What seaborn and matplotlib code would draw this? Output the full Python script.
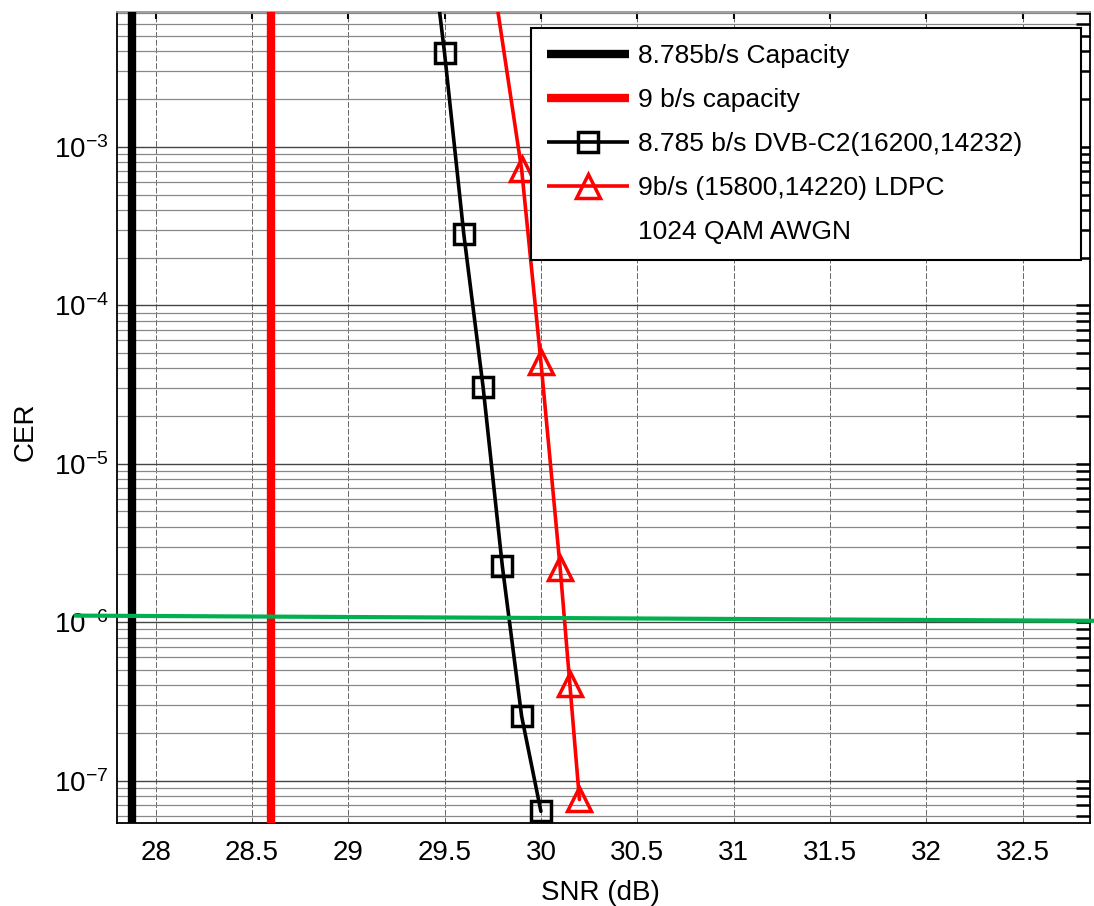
import numpy as np
import pandas as pd
import seaborn as sns
import matplotlib.pyplot as plt
from matplotlib.lines import Line2D
from matplotlib.ticker import LogLocator, NullFormatter

# capacity limits (dB)
cap_snr = [27.88, 28.6]
cap_labels = ['8.785b/s Capacity', '9 b/s capacity']
cap_colors = ['black', '#ff0000']

# 8.785 b/s DVB-C2(16200,14232)
dvb_snr = [29.4, 29.5, 29.6, 29.7, 29.8, 29.9, 30.0]
dvb_cer = [4.0e-2, 3.9e-3, 2.8e-4, 3.05e-5, 2.25e-6, 2.55e-7, 6.4e-8]

# 9b/s (15800,14220) LDPC
ldpc_snr = [29.7, 29.9, 30.0, 30.1, 30.15, 30.2]
ldpc_cer = [3.0e-2, 7.2e-4, 4.4e-5, 2.2e-6, 4.1e-7, 7.6e-8]

# target CER reference line (slightly tilted in the original)
target_snr = [27.586, 32.87]
target_cer = [1.1e-6, 1.02e-6]

xticks = [28, 28.5, 29, 29.5, 30, 30.5, 31, 31.5, 32, 32.5]
xticklabels = ['28', '28.5', '29', '29.5', '30', '30.5', '31', '31.5', '32', '32.5']

sns.set_style('white')
plt.rcParams['font.family'] = ['Liberation Sans', 'DejaVu Sans']
plt.rcParams['mathtext.fontset'] = 'custom'
plt.rcParams['mathtext.rm'] = 'Liberation Sans'
plt.rcParams['mathtext.it'] = 'Liberation Sans'

fig = plt.figure(figsize=(10.94, 9.06), dpi=100)
ax = fig.add_axes([0.107, 0.0916, 0.8893, 0.8952])

for x, c in zip(cap_snr, cap_colors):
    ax.axvline(x, color=c, lw=6, zorder=3)

dvb = pd.DataFrame({'snr': dvb_snr, 'cer': dvb_cer})
ldpc = pd.DataFrame({'snr': ldpc_snr, 'cer': ldpc_cer})
sns.lineplot(data=dvb, x='snr', y='cer', ax=ax, color='black', lw=2.6,
             marker='s', markersize=14, markerfacecolor='none',
             markeredgecolor='black', markeredgewidth=2.5, zorder=4)
sns.lineplot(data=ldpc, x='snr', y='cer', ax=ax, color='#ff0000', lw=2.6,
             marker='^', markersize=17, markerfacecolor='none',
             markeredgecolor='#ff0000', markeredgewidth=2.5, zorder=4)

ax.plot(target_snr, target_cer, color='#00b050', lw=3, clip_on=False, zorder=5)

ax.set_yscale('log')
ax.set_xlim(27.8, 32.85)
ax.set_ylim(5.4e-8, 7.1e-3)
ax.set_xticks(xticks)
ax.set_xticklabels(xticklabels)
ax.yaxis.set_major_locator(LogLocator(base=10, numticks=20))
ax.yaxis.set_minor_locator(LogLocator(base=10, subs=np.arange(2, 10), numticks=100))
ax.yaxis.set_minor_formatter(NullFormatter())

ax.grid(True, which='major', axis='x', color='#666666', lw=0.7, ls=(0, (6, 2)))
ax.grid(True, which='major', axis='y', color='#444444', lw=1.0)
ax.grid(True, which='minor', axis='y', color='#888888', lw=0.9)

ax.tick_params(axis='both', which='both', direction='in', top=True, right=True,
               colors='black', labelcolor='black', labelsize=20)
ax.tick_params(axis='x', which='major', length=5, width=1.5, pad=12)
ax.tick_params(axis='y', which='major', length=10, width=1.8, pad=6)
ax.tick_params(axis='y', which='minor', length=10, width=1.8)
for s in ax.spines.values():
    s.set_visible(True)
    s.set_color('black')
    s.set_linewidth(1.3)
ax.spines['top'].set_color('#999999')

ax.set_xlabel('SNR (dB)', fontsize=20, color='black')
ax.set_ylabel('CER', fontsize=20, color='black')
ax.xaxis.set_label_coords(0.497, -0.070)
ax.yaxis.set_label_coords(-0.081, 0.483)

handles = [
    Line2D([], [], color=cap_colors[0], lw=6, solid_capstyle='butt'),
    Line2D([], [], color=cap_colors[1], lw=6, solid_capstyle='butt'),
    Line2D([], [], color='black', lw=2.6, marker='s', markersize=14,
           markerfacecolor='none', markeredgewidth=2.5, solid_capstyle='butt'),
    Line2D([], [], color='#ff0000', lw=2.6, marker='^', markersize=17,
           markerfacecolor='none', markeredgewidth=2.5, solid_capstyle='butt'),
    Line2D([], [], color='none'),
]
labels = cap_labels + ['8.785 b/s DVB-C2(16200,14232)',
                       '9b/s (15800,14220) LDPC', '1024 QAM AWGN']
leg = ax.legend(handles, labels, loc='upper left',
                bbox_to_anchor=(0.4255, 0.5, 0.565, 0.48), mode='expand',
                fontsize=19, frameon=True, fancybox=False, framealpha=1,
                edgecolor='black', handlelength=3.1, handletextpad=0.35,
                labelspacing=0.76, borderpad=0.6, borderaxespad=0)
leg.get_frame().set_linewidth(1.5)
leg.set_zorder(10)
for t in leg.get_texts():
    t.set_color('black')

fig.savefig('out.png', dpi=100)
